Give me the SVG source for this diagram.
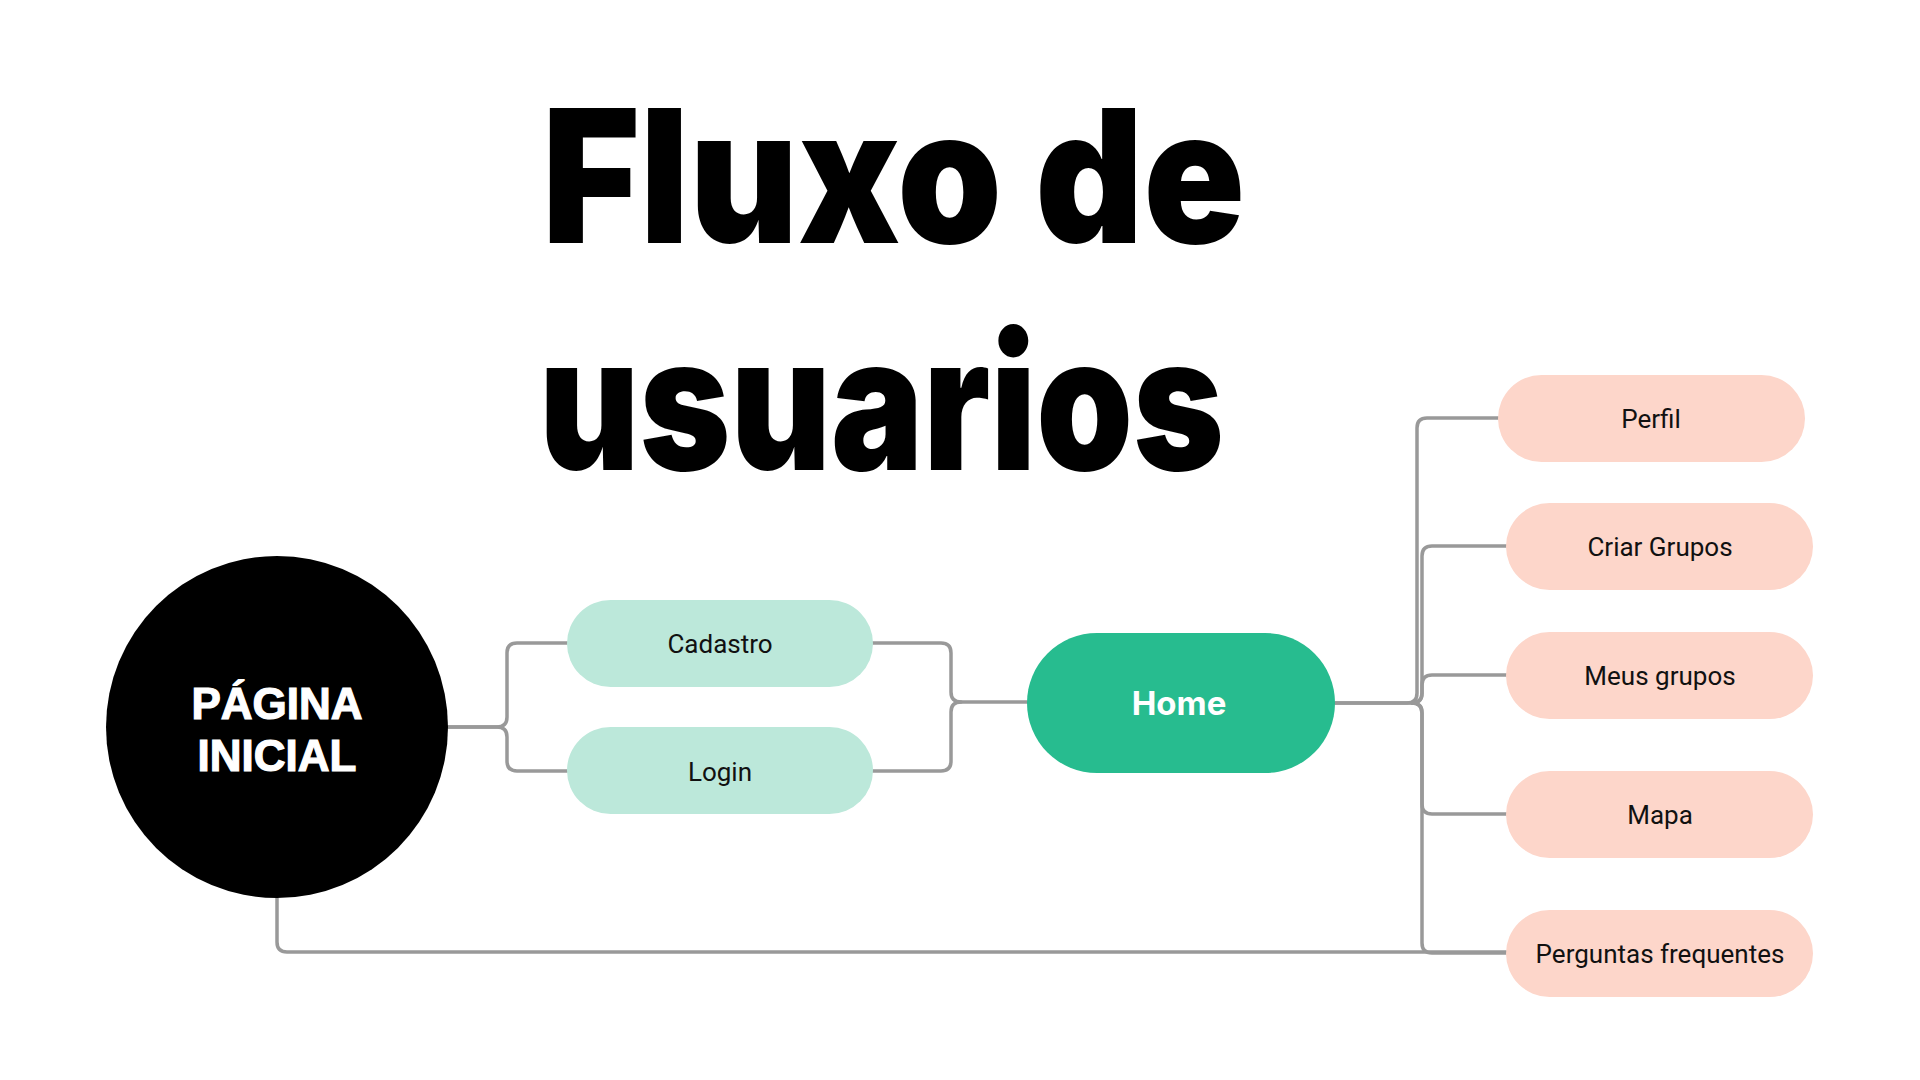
<svg xmlns="http://www.w3.org/2000/svg" width="1920" height="1080" viewBox="0 0 1920 1080">
<style>
.title{font-family:Inter,"Liberation Sans",sans-serif;font-weight:900;font-size:186px;fill:#000}
.conn{fill:none;stroke:#999;stroke-width:3.5;stroke-linecap:round;stroke-linejoin:round}
.lbl{font-family:Roboto,"Liberation Sans",sans-serif;font-size:26px;fill:#111;text-anchor:middle}
.big{font-family:"Liberation Sans",Arial,sans-serif;font-weight:700;font-size:44px;fill:#fff;stroke:#fff;stroke-width:1.2;text-anchor:middle}
.green{fill:#BCE8DA}
.pink{fill:#FDD6CA}
</style>
<rect width="1920" height="1080" fill="#fff"/>
<text class="title" x="542" y="243" textLength="703" lengthAdjust="spacingAndGlyphs">Fluxo de</text>
<text class="title" x="539" y="470" textLength="685" lengthAdjust="spacingAndGlyphs">usuarios</text>
<g id="connectors" class="conn">
<path d="M448 727 H497 Q507 727 507 717 V653 Q507 643 517 643 H567"/>
<path d="M448 727 H497 Q507 727 507 737 V761 Q507 771 517 771 H567"/>
<path d="M873 643 H941 Q951 643 951 653 V692 Q951 702 961 702 H1027"/>
<path d="M873 771 H941 Q951 771 951 761 V712 Q951 702 961 702"/>
<path d="M1335 703 H1407 Q1417 703 1417 693 V428 Q1417 418 1427 418 H1498"/>
<path d="M1335 703 H1412 Q1422 703 1422 693 V556 Q1422 546 1432 546 H1506"/>
<path d="M1412 703 Q1422 703 1422 693 V685 Q1422 675 1432 675 H1506"/>
<path d="M1412 703 Q1422 703 1422 713 V804 Q1422 814 1432 814 H1506"/>
<path d="M1412 703 Q1422 703 1422 713 V943 Q1422 953 1432 953 H1506"/>
<path d="M277 898 V942 Q277 952 287 952 H1506"/>
</g>
<g id="pagina-inicial">
<circle cx="277" cy="727" r="171" fill="#000"/>
<text class="big" x="277" y="719">PÁGINA</text>
<text class="big" x="277" y="771">INICIAL</text>
</g>
<g id="cadastro">
<rect class="green" x="567" y="600" width="306" height="87" rx="43.5"/>
<text class="lbl" x="720" y="653">Cadastro</text>
</g>
<g id="login">
<rect class="green" x="567" y="727" width="306" height="87" rx="43.5"/>
<text class="lbl" x="720" y="781">Login</text>
</g>
<g id="home">
<rect x="1027" y="633" width="308" height="140" rx="70" fill="#27BC8F"/>
<text x="1179" y="715" font-family="Inter,'Liberation Sans',sans-serif" font-weight="700" font-size="33" fill="#fff" text-anchor="middle">Home</text>
</g>
<g id="perfil">
<rect class="pink" x="1498" y="375" width="307" height="87" rx="43.5"/>
<text class="lbl" x="1651" y="428">Perfil</text>
</g>
<g id="criar-grupos">
<rect class="pink" x="1506" y="503" width="307" height="87" rx="43.5"/>
<text class="lbl" x="1660" y="556">Criar Grupos</text>
</g>
<g id="meus-grupos">
<rect class="pink" x="1506" y="632" width="307" height="87" rx="43.5"/>
<text class="lbl" x="1660" y="685">Meus grupos</text>
</g>
<g id="mapa">
<rect class="pink" x="1506" y="771" width="307" height="87" rx="43.5"/>
<text class="lbl" x="1660" y="824">Mapa</text>
</g>
<g id="perguntas">
<rect class="pink" x="1506" y="910" width="307" height="87" rx="43.5"/>
<text class="lbl" x="1660" y="963">Perguntas frequentes</text>
</g>
</svg>
